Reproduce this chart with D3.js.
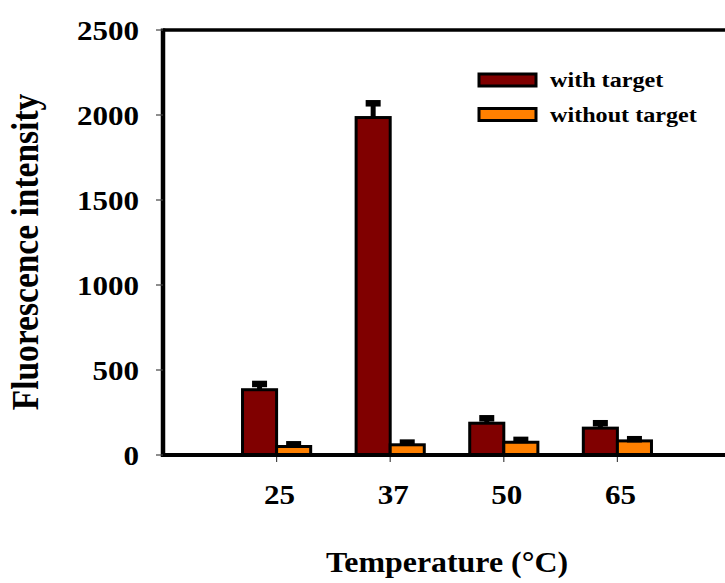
<!DOCTYPE html>
<html>
<head>
<meta charset="utf-8">
<script src="https://cdn.jsdelivr.net/npm/d3@7"></script>
<style>
  body { margin: 0; background: #fff; }
  svg { display: block; }
  text { font-family: "Liberation Serif", "Times New Roman", serif; font-weight: bold; fill: #000; }
</style>
</head>
<body>
<svg id="chart" width="725" height="583"></svg>
<script>
const categories = ["25", "37", "50", "65"];
const withTarget = [384, 1985, 187, 158];
const withTargetErr = [53, 103, 48, 48];
const withoutTarget = [50, 60, 75, 83];
const withoutTargetErr = [32, 32, 33, 29];
const yTicks = [0, 500, 1000, 1500, 2000, 2500];
const seriesNames = ["with target", "without target"];
const seriesColors = ["#800000", "#ff8000"];

const svg = d3.select("#chart");
const SX = 1.15;
const x = d3.scaleLinear().domain([0, 5]).range([163, 731]);
const y = d3.scaleLinear().domain([0, 2500]).range([455, 30]);
const barW = 0.3;

// frame lines
svg.append("line").attr("x1", x(0)).attr("x2", 725).attr("y1", y(2500)).attr("y2", y(2500))
  .attr("stroke", "#000").attr("stroke-width", 3.5);
svg.append("line").attr("x1", x(0)).attr("x2", x(0)).attr("y1", y(2500) - 1.5).attr("y2", y(0) + 2)
  .attr("stroke", "#000").attr("stroke-width", 4.5);

// y ticks
svg.selectAll(".ytick").data(yTicks).enter().append("line")
  .attr("x1", x(0) - 7).attr("x2", x(0)).attr("y1", d => y(d)).attr("y2", d => y(d))
  .attr("stroke", "#444").attr("stroke-width", 1.2);
svg.selectAll(".ylab").data(yTicks).enter().append("text")
  .attr("text-anchor", "end")
  .attr("font-size", 27)
  .attr("transform", d => `translate(139,${y(d) + 9.5}) scale(${SX},1)`)
  .text(d => d);

// bars
const groups = categories.map((c, i) => ({ c, i: i + 1 }));
const seriesVals = [withTarget, withoutTarget];
const seriesErrs = [withTargetErr, withoutTargetErr];
seriesVals.forEach((vals, s) => {
  svg.selectAll(".bar" + s).data(groups).enter().append("rect")
    .attr("x", d => x(d.i - barW + s * barW))
    .attr("width", x(barW) - x(0))
    .attr("y", d => y(vals[d.i - 1]))
    .attr("height", d => y(0) - y(vals[d.i - 1]))
    .attr("fill", seriesColors[s])
    .attr("stroke", "#000").attr("stroke-width", 3);
});
seriesVals.forEach((vals, s) => {
  const errs = seriesErrs[s];
  const cx = d => x(d.i - barW / 2 + s * barW);
  svg.selectAll(".stem" + s).data(groups).enter().append("line")
    .attr("x1", cx).attr("x2", cx)
    .attr("y1", d => y(vals[d.i - 1])).attr("y2", d => y(vals[d.i - 1] + errs[d.i - 1]) + 3)
    .attr("stroke", "#000").attr("stroke-width", 5);
  svg.selectAll(".cap" + s).data(groups).enter().append("rect")
    .attr("x", d => cx(d) - 7.5).attr("width", 15)
    .attr("y", d => y(vals[d.i - 1] + errs[d.i - 1])).attr("height", 6.5)
    .attr("fill", "#000");
});

// x axis
svg.append("line").attr("x1", x(0)).attr("x2", 725).attr("y1", y(0)).attr("y2", y(0))
  .attr("stroke", "#000").attr("stroke-width", 4);
svg.selectAll(".xtick").data(groups).enter().append("line")
  .attr("x1", d => x(d.i)).attr("x2", d => x(d.i)).attr("y1", y(0) + 2).attr("y2", y(0) + 7)
  .attr("stroke", "#444").attr("stroke-width", 1.2);
svg.selectAll(".xlab").data(groups).enter().append("text")
  .attr("text-anchor", "middle")
  .attr("font-size", 27)
  .attr("transform", d => `translate(${x(d.i) + 3},504) scale(${SX},1)`)
  .text(d => d.c);

// titles
svg.append("text").attr("text-anchor", "middle").attr("font-size", 29)
  .attr("transform", `translate(447,572) scale(1.10,1)`)
  .text("Temperature (°C)");
svg.append("text").attr("text-anchor", "middle").attr("font-size", 33.5)
  .attr("transform", `translate(37.5,252) rotate(-90) scale(1,${SX})`)
  .text("Fluorescence intensity");

// legend
const legY = [80, 114.5];
seriesNames.forEach((n, s) => {
  svg.append("rect").attr("x", 479).attr("y", legY[s] - 6).attr("width", 57).attr("height", 12)
    .attr("fill", seriesColors[s]).attr("stroke", "#000").attr("stroke-width", 3);
  svg.append("text").attr("font-size", 21)
    .attr("transform", `translate(550,${legY[s] + 7}) scale(${SX},1)`)
    .text(n);
});
</script>
</body>
</html>
